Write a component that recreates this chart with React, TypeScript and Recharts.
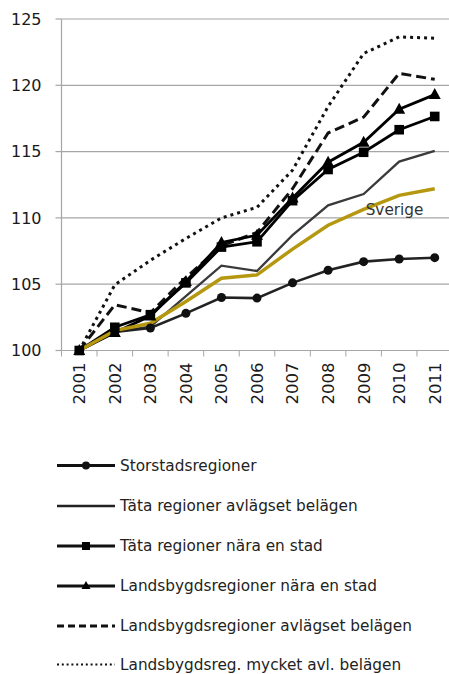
import { CartesianGrid, LabelList, Line, LineChart, XAxis, YAxis } from "recharts";

const years = ["2001", "2002", "2003", "2004", "2005", "2006", "2007", "2008", "2009", "2010", "2011"];
const storstad = [100, 101.4, 101.7, 102.8, 104.0, 103.95, 105.1, 106.05, 106.7, 106.9, 107.0];
const tataAvl = [100, 101.4, 101.8, 104.1, 106.4, 106.0, 108.7, 110.95, 111.8, 114.25, 115.05];
const tataNara = [100, 101.75, 102.7, 105.1, 107.8, 108.2, 111.3, 113.65, 114.95, 116.65, 117.65];
const landNara = [100, 101.35, 102.6, 105.2, 108.15, 108.7, 111.5, 114.2, 115.7, 118.2, 119.3];
const landAvl = [100, 103.45, 102.85, 105.5, 107.9, 108.9, 112.2, 116.4, 117.6, 120.9, 120.45];
const landMycket = [100, 104.95, 106.8, 108.45, 110.0, 110.8, 113.6, 118.4, 122.4, 123.65, 123.55];
const sverige = [100, 101.5, 102.05, 103.7, 105.45, 105.7, 107.65, 109.45, 110.65, 111.7, 112.2];
const yTicks = [100, 105, 110, 115, 120, 125];

const legendNames = [
  "Storstadsregioner",
  "Täta regioner avlägset belägen",
  "Täta regioner nära en stad",
  "Landsbygdsregioner nära en stad",
  "Landsbygdsregioner avlägset belägen",
  "Landsbygdsreg. mycket avl. belägen",
];

const data = years.map((year, i) => ({
  year,
  storstad: storstad[i],
  tataAvl: tataAvl[i],
  tataNara: tataNara[i],
  landNara: landNara[i],
  landAvl: landAvl[i],
  landMycket: landMycket[i],
  sverige: sverige[i],
}));

const FONT = "'DejaVu Sans', Verdana, sans-serif";
const GRID = "#a6a6a6";
const BAND = 391 / 11;

const CircleDot = (p: any) => <circle key={p.index} cx={p.cx} cy={p.cy} r={4.5} fill="#111" />;
const SquareDot = (p: any) => <rect key={p.index} x={p.cx - 4.8} y={p.cy - 4.8} width={9.6} height={9.6} fill="#000" />;
const TriangleDot = (p: any) => (
  <polygon
    key={p.index}
    points={`${p.cx},${p.cy - 6.5} ${p.cx + 6},${p.cy + 4.5} ${p.cx - 6},${p.cy + 4.5}`}
    fill="#000"
  />
);

function YearTick({ x, y, payload, index }: any) {
  return (
    <g>
      <line x1={x - BAND / 2} y1={y - 6} x2={x - BAND / 2} y2={y} stroke={GRID} />
      {index === years.length - 1 && <line x1={x + BAND / 2} y1={y - 6} x2={x + BAND / 2} y2={y} stroke={GRID} />}
      <text
        transform={`translate(${x},${y + 6}) rotate(-90)`}
        textAnchor="end"
        dy="0.36em"
        fontSize={16.5}
        fill="#1a1a1a"
        fontFamily={FONT}
      >
        {payload.value}
      </text>
    </g>
  );
}

function SverigeLabel({ x, y, index }: any) {
  if (index !== 8) return null;
  return (
    <text x={x + 2} y={y + 6} fontSize={15.3} fill="#333" fontFamily={FONT}>
      Sverige
    </text>
  );
}

function LegendRow({ i, y }: { i: number; y: number }) {
  const x1 = 57;
  const x2 = 115;
  const mid = (x1 + x2) / 2;
  let line = <line x1={x1} y1={y} x2={x2} y2={y} stroke="#111" strokeWidth={3} />;
  let marker = null;
  if (i === 0) marker = <circle cx={mid} cy={y} r={4} fill="#111" />;
  if (i === 1) line = <line x1={x1} y1={y} x2={x2} y2={y} stroke="#222" strokeWidth={2.5} />;
  if (i === 2) marker = <rect x={mid - 4} y={y - 4} width={8} height={8} fill="#000" />;
  if (i === 3) marker = <polygon points={`${mid},${y - 5} ${mid + 4.5},${y + 3} ${mid - 4.5},${y + 3}`} fill="#000" />;
  if (i === 4) line = <line x1={x1} y1={y} x2={x2} y2={y} stroke="#111" strokeWidth={3} strokeDasharray="7 4" />;
  if (i === 5) line = <line x1={x1} y1={y} x2={x2} y2={y} stroke="#111" strokeWidth={2} strokeDasharray="2 2.8" />;
  return (
    <g>
      {line}
      {marker}
      <text x={120} y={y} dy="0.35em" fontSize={15.3} fill="#222" fontFamily={FONT}>
        {legendNames[i]}
      </text>
    </g>
  );
}

export default function App() {
  const rowY = [465.5, 506, 546, 586, 626, 664.5];
  return (
    <div
      style={{
        position: "absolute",
        left: 0,
        top: 0,
        width: 449,
        height: 674,
        overflow: "hidden",
        background: "#fff",
        fontFamily: FONT,
      }}
    >
      <LineChart width={462} height={430} data={data} margin={{ top: 19, right: 9.5, left: 0, bottom: 0 }}>
        <CartesianGrid vertical={false} stroke={GRID} strokeWidth={1.2} />
        <XAxis
          dataKey="year"
          height={79.5}
          padding={{ left: BAND / 2, right: BAND / 2 }}
          stroke={GRID}
          strokeWidth={1.2}
          tickLine={false}
          tickSize={6}
          tickMargin={0}
          interval={0}
          tick={<YearTick />}
        />
        <YAxis
          width={61.5}
          domain={[100, 125]}
          ticks={yTicks}
          stroke={GRID}
          strokeWidth={1.2}
          tickSize={6}
          tickMargin={14}
          tick={{ fontSize: 16, fill: "#1a1a1a", fontFamily: FONT }}
        />
        <Line
          dataKey="landMycket"
          stroke="#111"
          strokeWidth={3}
          strokeDasharray="3 4"
          dot={false}
          isAnimationActive={false}
        />
        <Line
          dataKey="landAvl"
          stroke="#111"
          strokeWidth={3}
          strokeDasharray="10 5"
          dot={false}
          isAnimationActive={false}
        />
        <Line dataKey="tataAvl" stroke="#3a3a3a" strokeWidth={2.3} dot={false} isAnimationActive={false} />
        <Line dataKey="storstad" stroke="#222" strokeWidth={2.6} dot={CircleDot} isAnimationActive={false} />
        <Line dataKey="tataNara" stroke="#000" strokeWidth={2.8} dot={SquareDot} isAnimationActive={false} />
        <Line dataKey="landNara" stroke="#000" strokeWidth={2.8} dot={TriangleDot} isAnimationActive={false} />
        <Line dataKey="sverige" stroke="#b5980f" strokeWidth={3.5} dot={false} isAnimationActive={false}>
          <LabelList dataKey="sverige" content={<SverigeLabel />} />
        </Line>
      </LineChart>
      <svg width={449} height={244} style={{ position: "absolute", left: 0, top: 430 }}>
        <g transform="translate(0,-430)">
          {legendNames.map((_, i) => (
            <LegendRow key={i} i={i} y={rowY[i]} />
          ))}
        </g>
      </svg>
    </div>
  );
}
